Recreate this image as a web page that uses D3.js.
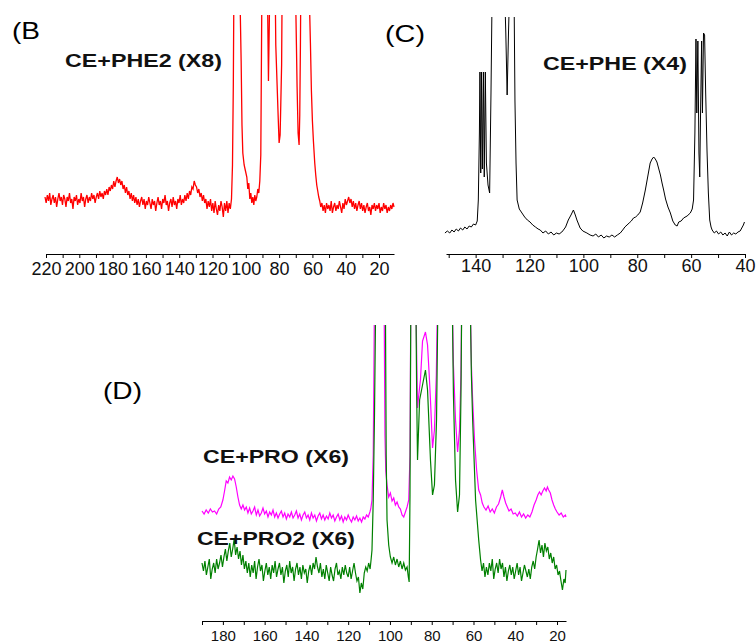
<!DOCTYPE html>
<html>
<head>
<meta charset="utf-8">
<script src="https://cdn.jsdelivr.net/npm/d3@7"></script>
<style>
  body { margin: 0; background: #fff; }
  svg { display: block; font-family: "Liberation Sans", Arial, sans-serif; }
</style>
</head>
<body>
<svg id="chart" width="756" height="644"></svg>
<script>
// chemical shift (ppm) ticks for each panel
const ticksB = [220, 210, 200, 190, 180, 170, 160, 150, 140, 130, 120, 110, 100, 90, 80, 70, 60, 50, 40, 30, 20];
const ticksC = [150, 140, 130, 120, 110, 100, 90, 80, 70, 60, 50, 40];
const ticksD = [190, 180, 170, 160, 150, 140, 130, 120, 110, 100, 90, 80, 70, 60, 50, 40, 30, 20];

// (B) CE+PHE2 (X8) - [ppm, intensity]
const phe2 = [
  [220.6,4],[219.9,1],[219.2,5],[218.5,2],[217.8,6],[217.1,0],[216.4,3],[215.7,5],[215,1],[214.3,4],[213.6,-1],
  [212.9,3],[212.2,6],[211.5,2],[210.8,4],[210.1,0],[209.4,5],[208.7,3],[208,-1],[207.3,4],[206.6,2],[205.9,6],
  [205.2,1],[204.5,3],[203.8,-2],[203.1,4],[202.4,2],[201.7,5],[201,0],[200.3,3],[199.6,1],[198.9,6],[198.2,2],
  [197.5,4],[196.8,-1],[196.1,3],[195.4,5],[194.7,1],[194,4],[193.3,2],[192.6,6],[191.9,3],[191.2,5],[190.5,1],
  [189.8,4],[189.1,6],[188.4,3],[187.7,7],[187,4],[186.3,6],[185.6,3],[184.9,7],[184.2,5],[183.5,8],[182.8,5],
  [182.1,9],[181.4,7],[180.7,10],[180,8],[179.3,12],[178.6,9],[177.9,12],[177.2,14],[176.5,11],[175.8,13],
  [175.1,10],[174.4,12],[173.7,8],[173,10],[172.3,6],[171.6,9],[170.9,5],[170.2,7],[169.5,3],[168.8,6],[168.1,2],
  [167.4,5],[166.7,1],[166,4],[165.3,0],[164.6,3],[163.9,-1],[163.2,2],[162.5,4],[161.8,0],[161.1,3],[160.4,-2],
  [159.7,2],[159,0],[158.3,4],[157.6,1],[156.9,-2],[156.2,3],[155.5,0],[154.8,2],[154.1,-3],[153.4,1],[152.7,4],
  [152,0],[151.3,2],[150.6,-2],[149.9,3],[149.2,1],[148.5,5],[147.8,0],[147.1,2],[146.4,-3],[145.7,1],[145,3],
  [144.3,-1],[143.6,4],[142.9,0],[142.2,2],[141.5,-2],[140.8,3],[140.1,1],[139.4,5],[138.7,0],[138,3],[137.3,1],
  [136.6,5],[135.9,2],[135.2,6],[134.5,3],[133.8,7],[133.1,5],[132.4,9],[131.7,8],[131,12],[130.3,10],[129.6,9],
  [128.9,6],[128.2,8],[127.5,4],[126.8,6],[126.1,2],[125.4,5],[124.7,1],[124,3],[123.3,-2],[122.6,2],[121.9,-1],
  [121.2,3],[120.5,-3],[119.8,1],[119.1,-4],[118.4,2],[117.7,-2],[117,-5],[116.3,0],[115.6,-3],[114.9,2],[114.2,-1],
  [113.5,-6],[112.8,1],[112.1,-3],[111.4,2],[110.7,-4],[110,1],[109.3,-2],[108.6,3],
  [108,20],[107.5,60],[107,130],[104.2,130],[103.4,100],[102.8,72],[102.3,40],
  [101.8,26],[101,20],[100.2,17],[99.4,14],[98.8,8],[98.2,11],[97.6,3],[97,6],[96.4,1],[95.8,4],[95.2,0],[94.6,5],
  [94,2],[93.4,4],[92.8,8],[92.2,6],[91.6,12],[91,25],[90.4,100],[90,130],[87.4,130],[86.9,100],[86.4,62],[85.9,90],
  [85.3,130],[82.6,130],[82,80],[81.2,60],[80.6,45],[80,31],[79.4,35],[79,50],[78.5,70],[78,130],[70.5,130],
  [70,100],[69.6,80],[69.2,59],[68.6,36],[68,30],[67.6,45],[67.2,80],[66.8,130],[62.2,130],[61.6,95],[61.2,81],
  [60.6,57],[60,42],[59.4,32],[58.6,21],[58,15],[57.4,10],[56.8,7],[56.2,4],[55.6,2],
  [55,-1],[54.3,1],[53.6,-3],[52.9,0],[52.2,-4],[51.5,1],[50.8,-2],[50.1,0],[49.4,-3],[48.7,2],[48,-4],[47.3,-1],
  [46.6,1],[45.9,-3],[45.2,0],[44.5,-2],[43.8,2],[43.1,-1],[42.4,-4],[41.7,1],[41,-2],[40.3,3],[39.6,0],[38.9,2],
  [38.2,4],[37.5,1],[36.8,3],[36.1,-1],[35.4,2],[34.7,-2],[34,1],[33.3,-3],[32.6,0],[31.9,2],[31.2,-2],[30.5,1],
  [29.8,-3],[29.1,0],[28.4,-4],[27.7,-1],[27,1],[26.3,-3],[25.6,-1],[24.9,-5],[24.2,0],[23.5,-2],[22.8,1],[22.1,-3],
  [21.4,0],[20.7,-2],[20,1],[19.3,-4],[18.6,-1],[17.9,-3],[17.2,1],[16.5,-2],[15.8,0],[15.1,-4],[14.4,-1],[13.7,-3],
  [13,0],[12.3,-2],[11.6,1],[11,-1]
];

// (C) CE+PHE (X4)
const phe = [
  [151.4,0],[150.5,1],[149.6,0],[148.8,1.5],[148,0.5],[147.2,2],[146.4,1],[145.6,2.5],[144.8,1.5],[144,3],[143.2,2],
  [142.4,3.5],[141.6,3],[140.8,4.5],[140,4],[139.4,6],[139,16.5],[138.6,50],[138.4,80.5],[138.1,30],[137.8,80.5],
  [137.5,32],[137.1,80.5],[136.8,28],[136.4,80.5],[136,35],[135.4,24],[134.8,20],[134.3,70],[133.8,130],[129.4,130],
  [128.8,100],[128.3,69],[127.8,100],[127.2,130],[125.8,130],[125.4,66],[125,35],[124.6,16.5],[123.8,12],[122.8,10],
  [121.8,8],[120.8,6.5],[119.8,5.5],[118.8,4],[117.8,3],[116.8,2],[116,1.5],[115,0],[114,1],[113,-0.5],[112,0.5],
  [111,-1],[110,0],[109,-0.5],[108,0.5],[107.4,1.5],[106.6,3],[105.6,6.5],[104.6,9],[103.7,11.5],[103,9],[102.4,6.5],
  [101.8,4.5],[101.2,2.5],[100.2,1],[98.7,0],[97.5,-1],[96.4,-1.5],[95.4,-0.5],[94.4,-2],[93.4,-1],[92.4,-2.5],
  [91.4,-1.5],[90.4,-2],[89.4,-1],[88.4,-2],[87.4,-1],[86.3,0],[85.4,1.5],[84.6,3],[83.8,4],[83,5],[82.2,6],
  [81.4,7.5],[80.6,8],[79.8,9],[78.9,10.5],[78,15],[77,21.5],[76,29],[75.2,35],[74.5,37],[73.9,38],[73.3,37],
  [72.7,35.5],[72,32],[71.4,29],[70.8,25],[70.2,21.5],[69.5,17],[68.6,13],[67.7,10],[66.8,6],[65.9,4],[65.2,3.5],
  [64.6,5.5],[63.7,6],[62.8,7.5],[61.5,8.5],[60.3,10],[59.6,12],[59.1,16.5],[58.6,50],[58.2,97],[57.9,60],[57.5,96],
  [57.1,40],[56.8,28],[56.5,60],[56.1,96],[55.8,60],[55.4,100],[55,99],[54.6,70],[54.1,41],[53.6,20],[53.1,6.5],
  [52.6,3],[52.2,1.5],[51.4,0],[50.6,1],[49.8,-0.5],[49,0.5],[48.2,-1],[47.4,0],[46.6,-1.5],[45.8,0.5],[45,-1],
  [44.2,0],[43.4,-0.5],[42.6,0.5],[41.8,1],[41.2,2.5],[40.6,4],[40.2,5.5]
];

// (D) CE+PRO (X6), magenta trace
const pro = [
  [190,32],[189,30.5],[188,32.5],[187,31],[186,33],[185,31.5],[184,32],[183,30.5],[182,33],[181,34],[180,37.5],
  [179.2,42],[178.4,47],[177.6,46],[176.8,49],[176,47.5],[175.2,49.5],[174.4,48],[173.6,44],[172.8,39],[172,35],
  [171.2,33],[170.4,35],[169.6,32.5],
  [168.8,34],[168,31],[167.2,33.5],[166.4,30.5],[165.6,32],[164.8,34],[164,30],[163.2,32.5],[162.4,29.5],[161.6,31],
  [160.8,33.5],[160,30.5],[159.2,32],[158.4,29],[157.6,31.5],[156.8,30],[156,32.5],[155.2,29],[154.4,31],[153.6,28.5],
  [152.8,30.5],[152,32],[151.2,29],[150.4,31],[149.6,28],[148.8,30.5],[148,29],[147.2,31.5],[146.4,28.5],[145.6,30],
  [144.8,32],[144,28.5],[143.2,30.5],[142.4,27.5],[141.6,30],[140.8,31.5],[140,28.5],[139.2,30],[138.4,27.5],
  [137.6,31],[136.8,28.5],[136,30],[135.2,27],[134.4,29.5],[133.6,31],[132.8,28],[132,30],[131.2,27.5],[130.4,29.5],
  [129.6,28],[128.8,31],[128,28.5],[127.2,30],[126.4,27],[125.6,29],[124.8,30.5],[124,27.5],[123.2,29.5],[122.4,26.5],
  [121.6,29],[120.8,27.5],[120,30],[119.2,28],[118.4,26.5],[117.6,29],[116.8,27.5],[116,29.5],[115.2,27],[114.4,28.5],
  [113.6,26.5],[112.8,29],[112,28],[111.2,30],[110.4,29],[109.6,31.5],[109.2,33],[108.6,37.5],
  [108,60],[107.4,140],[102.8,140],[102.4,70],[102,52],[101.4,45],[100.6,39],[99.8,41],[99,37],[98.2,38.5],[97.4,35],
  [96.6,36.5],[95.8,34],[95,33],[94.2,30],[93.4,29],[92.6,31.5],[91.8,34],[91,37.5],[90.4,60],[90,140],[87.6,140],
  [87.2,110],[86.8,83.5],[86.2,90],[85.4,97.5],[84.4,117],[83,121.5],[82,115],[81.2,100],[80.6,87.5],[79.6,63.5],
  [78.7,72.5],[77.8,100],[77.2,140],[70.2,140],[69.6,105],[68.6,77.5],[67.6,61.5],[66.7,72.5],[66,100],[65.6,140],
  [61.6,140],[61,105],[60.4,87.5],[59.5,67.5],[58.5,52.5],[57.5,42.5],[56.6,40],[55.8,36],[55,34],[54,32.5],
  [53,34.5],[52,31.5],[51,33],[50,31],[49,34],[48,35.5],[47,39],[46.2,42.5],[45.4,39],[44.6,36],[43.8,34],[43,32],
  [42,33],[41,30.5],[40,31],[39,29.5],[38,31.5],[37,29],[36,30.5],[35,28.5],[34,30],[33,29],[32,31.5],[31,35],
  [30,37.5],[29.2,40],[28.4,41.5],[27.6,40],[26.8,42],[26,43.5],[25.2,42],[24.6,44],[24,42.5],[23.2,41],[22.4,37.5],
  [21.6,35],[20.8,33],[20,31.5],[19,30],[18,31],[17,29],[16,30],[15.7,29]
];

// (D) CE+PRO2 (X6), green trace
const pro2 = [
  [190,6],[189.3,2],[188.6,7],[187.9,0],[187.2,4],[186.5,8],[185.8,-2],[185.1,3],[184.4,6],[183.7,1],[183,8],
  [182.3,3],[181.6,6],[180.9,10],[180.2,4],[179.5,9],[178.8,13],[178.1,7],[177.4,12],[176.7,16],[176,9],[175.3,13],
  [174.6,18],[173.9,10],[173.2,14],[172.5,8],[171.8,12],[171.1,5],[170.4,10],[169.7,3],[169,7],[168.3,1],[167.6,6],
  [166.9,-1],[166.2,5],[165.5,1],[164.8,7],[164.1,-2],[163.4,4],[162.7,8],[162,2],[161.3,5],[160.6,-3],[159.9,2],
  [159.2,6],[158.5,0],[157.8,4],[157.1,-2],[156.4,5],[155.7,1],[155,7],[154.3,-1],[153.6,3],[152.9,6],[152.2,0],
  [151.5,4],[150.8,-4],[150.1,2],[149.4,5],[148.7,-1],[148,7],[147.3,1],[146.6,4],[145.9,-3],[145.2,3],[144.5,6],
  [143.8,0],[143.1,4],[142.4,-2],[141.7,5],[141,1],[140.3,3],[139.6,-4],[138.9,2],[138.2,5],[137.5,0],[136.8,6],
  [136.1,3],[135.4,9],[134.7,4],[134,1],[133.3,6],[132.6,-1],[131.9,3],[131.2,-2],[130.5,5],[129.8,1],[129.1,-3],
  [128.4,4],[127.7,0],[127,-3],[126.3,3],[125.6,6],[124.9,0],[124.2,2],[123.5,-2],[122.8,4],[122.1,0],[121.4,5],
  [120.7,1],[120,-1],[119.3,4],[118.6,-2],[117.9,2],[117.2,6],[116.5,1],[115.8,-3],[115.1,-1],[114.4,-9],[113.7,-4],
  [113,-7],[112.3,1],[111.6,4],[110.9,2],[110.2,6],[109.5,3],[109,8],[108.6,12.5],
  [108,37.5],[107.4,80],[106.8,140],[102.2,140],[101.8,60],
  [101.4,27.5],[100.6,15],[99.8,9],[99,6],[98.2,9],[97.4,5],[96.6,8],[95.8,4],[95,7],[94.2,3],[93.4,6],[92.6,2.5],
  [91.8,4],[91.2,-1],[90.8,-3.5],[90.4,40],[90,140],[87.6,140],[87.2,90],[86.8,57.5],[85.8,87.5],[84.4,95],
  [83,102.5],[82,92.5],[80.6,57.5],[79.6,40],[78.7,45],[77.7,77.5],[77,140],[70.2,140],[69.6,90],[68.6,47.5],
  [67.6,31.5],[66.7,40],[66,90],[65.6,140],[61.6,140],[61,100],[60.4,77.5],[59,37.5],[57.5,17.5],[56.6,7.5],
  [55.9,2],[55.2,6],[54.5,-1],[53.8,4],[53.1,0],[52.4,6],[51.7,2],[51,8],[50.3,-2],[49.6,3],[48.9,6],[48.2,1],
  [47.5,8],[46.8,3],[46.1,6],[45.4,-1],[44.7,4],[44,-3],[43.3,2],[42.6,5],[41.9,0],[41.2,4],[40.5,-2],[39.8,2],
  [39.1,6],[38.4,0],[37.7,4],[37,-3],[36.3,1],[35.6,5],[34.9,2],[34.2,-1],[33.5,3],[32.8,-2],[32.1,4],[31.4,7],
  [30.7,3],[30,9],[29.3,13],[28.6,17.5],[27.9,11],[27.2,15],[26.5,9],[25.8,16],[25.1,12],[24.4,14],[23.7,8],[23,11],
  [22.3,6],[21.6,9],[20.9,3],[20.2,5],[19.5,0],[18.8,2],[18.1,-3],[17.4,-7.5],[16.7,-2],[16.1,-4],[15.7,2.5]
];

const svg = d3.select('#chart');

// one spectrum panel: clipped traces + ppm axis
function drawPanel(id, cfg) {
  const x = d3.scaleLinear().domain(cfg.xDomain).range(cfg.xRange);
  const y = d3.scaleLinear().domain(cfg.yDomain).range(cfg.yRange);

  svg.append('clipPath').attr('id', 'clip-' + id)
    .append('rect')
    .attr('x', cfg.xRange[0] - 2).attr('y', cfg.yRange[1])
    .attr('width', cfg.xRange[1] - cfg.xRange[0] + 4)
    .attr('height', cfg.yRange[0] - cfg.yRange[1] + 10);

  const line = d3.line().x(d => x(d[0])).y(d => y(d[1]));

  const g = svg.append('g').attr('clip-path', `url(#clip-${id})`);
  cfg.series.forEach(s => {
    g.append('path')
      .datum(s.data)
      .attr('fill', 'none')
      .attr('stroke', s.color)
      .attr('stroke-width', s.width || 1.2)
      .attr('d', line);
  });

  const axis = d3.axisBottom(x)
    .tickValues(cfg.ticks)
    .tickFormat(d => d % 20 === 0 ? d : '')
    .tickSize(4)
    .tickSizeOuter(0)
    .tickPadding(cfg.pad);

  const ax = svg.append('g')
    .attr('transform', `translate(0,${cfg.axisY})`)
    .call(axis);
  ax.select('.domain').attr('stroke', '#000');
  ax.selectAll('.tick line').attr('stroke', '#000');
  ax.selectAll('.tick text')
    .attr('fill', '#111')
    .style('font-size', cfg.fontSize + 'px')
    .style('font-family', '"Liberation Sans", Arial, sans-serif');
}

drawPanel('b', {
  xDomain: [220, 11], xRange: [46, 394],
  yDomain: [-5, 95], yRange: [215, 15],
  axisY: 254, ticks: ticksB, pad: 4, fontSize: 18,
  series: [{ data: phe2, color: '#ff0000', width: 1.3 }]
});

drawPanel('c', {
  xDomain: [151, 40], xRange: [446, 745],
  yDomain: [-5, 108], yRange: [243, 17],
  axisY: 254, ticks: ticksC, pad: 1, fontSize: 18,
  series: [{ data: phe, color: '#000000', width: 1 }]
});

drawPanel('d', {
  xDomain: [190, 15.7], xRange: [202, 566],
  yDomain: [-10, 125], yRange: [595, 325],
  axisY: 621, ticks: ticksD, pad: 5, fontSize: 15,
  series: [
    { data: pro, color: '#ff00ff', width: 1.2 },
    { data: pro2, color: '#008000', width: 1.2 }
  ]
});

// panel letters
const letters = [
  { t: '(B', x: 12, y: 39, w: 28 },
  { t: '(C)', x: 385, y: 42, w: 40 },
  { t: '(D)', x: 103, y: 399, w: 39 }
];
svg.selectAll('.letter').data(letters).enter()
  .append('text')
  .attr('class', 'letter')
  .attr('x', d => d.x).attr('y', d => d.y)
  .attr('textLength', d => d.w)
  .attr('lengthAdjust', 'spacingAndGlyphs')
  .style('font-size', '24px')
  .attr('fill', '#000')
  .text(d => d.t);

// sample labels
const titles = [
  { t: 'CE+PHE2 (X8)', x: 65, y: 67, w: 157 },
  { t: 'CE+PHE (X4)', x: 543, y: 70, w: 144 },
  { t: 'CE+PRO (X6)', x: 203, y: 463, w: 146 },
  { t: 'CE+PRO2 (X6)', x: 197, y: 545, w: 158 }
];
svg.selectAll('.title').data(titles).enter()
  .append('text')
  .attr('class', 'title')
  .attr('x', d => d.x).attr('y', d => d.y)
  .attr('textLength', d => d.w)
  .attr('lengthAdjust', 'spacingAndGlyphs')
  .style('font-size', '19px')
  .style('font-weight', 'bold')
  .attr('fill', '#111')
  .text(d => d.t);
</script>
</body>
</html>
